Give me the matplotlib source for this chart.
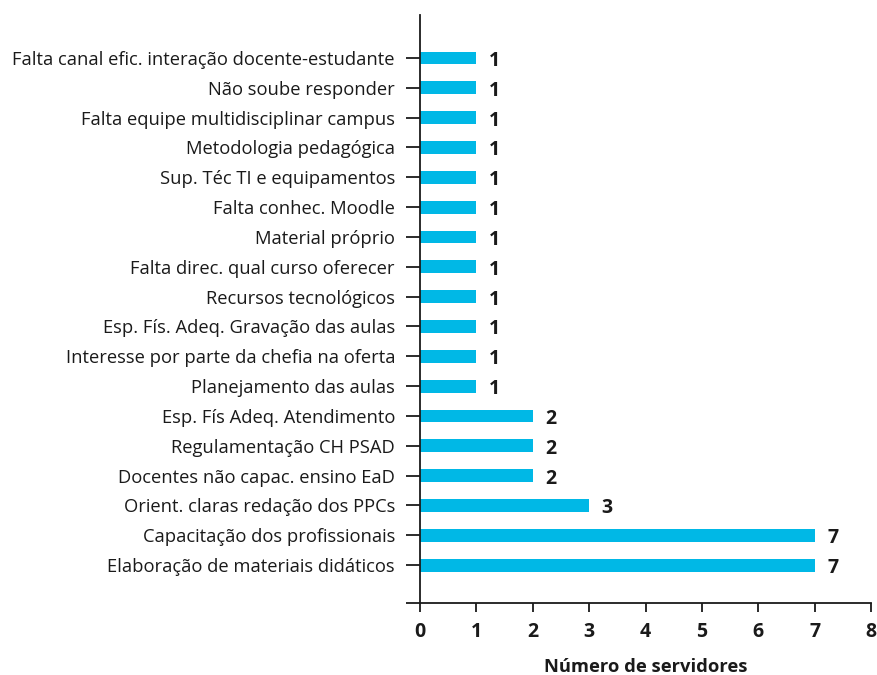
import matplotlib
matplotlib.use("Agg")
import matplotlib.pyplot as plt

categories = [
    "Falta canal efic. interação docente-estudante",
    "Não soube responder",
    "Falta equipe multidisciplinar campus",
    "Metodologia pedagógica",
    "Sup. Téc TI e equipamentos",
    "Falta conhec. Moodle",
    "Material próprio",
    "Falta direc. qual curso oferecer",
    "Recursos tecnológicos",
    "Esp. Fís. Adeq. Gravação das aulas",
    "Interesse por parte da chefia na oferta",
    "Planejamento das aulas",
    "Esp. Fís Adeq. Atendimento",
    "Regulamentação CH PSAD",
    "Docentes não capac. ensino EaD",
    "Orient. claras redação dos PPCs",
    "Capacitação dos profissionais",
    "Elaboração de materiais didáticos",
]
values = [1, 1, 1, 1, 1, 1, 1, 1, 1, 1, 1, 1, 2, 2, 2, 3, 7, 7]
x_ticks = [0, 1, 2, 3, 4, 5, 6, 7, 8]
x_label = "Número de servidores"

plt.rcParams['font.family'] = ['Open Sans', 'DejaVu Sans']
color = "#00B8E6"
txt = "#1a1a1a"
fs = 13.2
fsn = 14

fig = plt.figure(figsize=(8.77, 6.75), dpi=100)
ax = fig.add_axes([420/877, 72/675, 451/877, 588/675])

n = len(categories)
ypos = [n - 1 - i for i in range(n)]
ax.barh(ypos, values, height=0.43, color=color)
for y, v in zip(ypos, values):
    ax.text(v + 0.22, y - 0.1, str(v), va='center', ha='left', fontsize=fsn,
            fontweight='bold', color=txt)

ymin, ymax = -1.27, n - 1 + 1.44
ax.set_ylim(ymin, ymax)
ax.set_xlim(0, 8)
ax.set_yticks([ymin] + ypos)
ax.set_yticklabels([""] + categories, fontsize=fs, color=txt)
ax.set_xticks(x_ticks)
ax.set_xticklabels([str(t) for t in x_ticks], fontsize=fsn, fontweight='bold', color=txt)
ax.tick_params(axis='y', length=10, width=1.3, pad=8, color=txt)
ax.tick_params(axis='x', length=6.5, width=1.3, pad=7, color=txt)
for s in ['top', 'right']:
    ax.spines[s].set_visible(False)
for s in ['left', 'bottom']:
    ax.spines[s].set_linewidth(1.3)
    ax.spines[s].set_color(txt)
ax.set_xlabel(x_label, fontsize=fs, fontweight='bold', color=txt, labelpad=12)

fig.savefig("out.png", dpi=100)
